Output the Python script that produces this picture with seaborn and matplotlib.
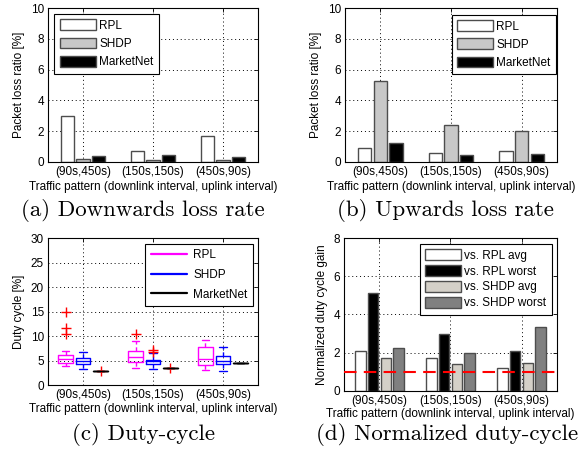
import matplotlib
matplotlib.use("Agg")
import matplotlib.pyplot as plt
import pandas as pd
import seaborn as sns
from matplotlib.lines import Line2D
from matplotlib.patches import Patch

# ---- data -------------------------------------------------------------
patterns = ["(90s,450s)", "(150s,150s)", "(450s,90s)"]
protocols = ["RPL", "SHDP", "MarketNet"]

# packet loss ratio [%], downwards traffic
down_rpl = [3.0, 0.7, 1.7]
down_shdp = [0.2, 0.1, 0.15]
down_marketnet = [0.4, 0.45, 0.3]

# packet loss ratio [%], upwards traffic
up_rpl = [0.9, 0.6, 0.7]
up_shdp = [5.25, 2.4, 2.0]
up_marketnet = [1.25, 0.45, 0.55]

# duty cycle [%] box statistics per pattern: (low whisker, q1, median, q3, high whisker)
duty_rpl_box = [(3.8, 4.5, 5.3, 6.2, 7.0), (3.5, 4.75, 5.8, 6.9, 9.0), (3.1, 4.1, 5.3, 7.7, 9.2)]
duty_rpl_out = [[10.4, 11.7, 14.8], [10.4], []]
duty_shdp_box = [(3.3, 4.3, 4.9, 5.5, 6.7), (3.2, 4.2, 4.9, 5.2, 6.6), (2.9, 4.3, 5.0, 6.0, 7.7)]
duty_shdp_out = [[], [6.8, 7.1], []]
duty_marketnet_box = [(2.95, 2.95, 2.95, 2.95, 2.95), (3.5, 3.5, 3.5, 3.5, 3.5), (4.5, 4.5, 4.5, 4.5, 4.5)]
duty_marketnet_out = [[2.95], [3.5], []]

# normalized duty cycle gain of MarketNet
gain_series = ["vs. RPL avg", "vs. RPL worst", "vs. SHDP avg", "vs. SHDP worst"]
gain_rpl_avg = [2.1, 1.7, 1.2]
gain_rpl_worst = [5.1, 2.95, 2.1]
gain_shdp_avg = [1.7, 1.4, 1.45]
gain_shdp_worst = [2.25, 2.0, 3.35]
gain_reference = 1.0

xlabel = "Traffic pattern (downlink interval, uplink interval)"
captions = ["(a) Downwards loss rate", "(b) Upwards loss rate",
            "(c) Duty-cycle", "(d) Normalized duty-cycle"]

# ---- style ------------------------------------------------------------
sns.set_theme(style="white")
plt.rcParams["font.family"] = ["Liberation Sans", "DejaVu Sans"]
FS = 8.5
plt.rcParams.update({
    "font.size": FS,
    "axes.edgecolor": "black",
    "axes.linewidth": 0.8,
    "xtick.color": "black",
    "ytick.color": "black",
    "axes.labelcolor": "black",
    "text.color": "black",
})

fig = plt.figure(figsize=(5.87, 4.53), dpi=100)
ax_a = fig.add_axes([0.0818, 0.6424, 0.3577, 0.3399])
ax_b = fig.add_axes([0.5877, 0.6424, 0.3612, 0.3399])
ax_c = fig.add_axes([0.0818, 0.1501, 0.3577, 0.3245])
ax_d = fig.add_axes([0.5860, 0.1375, 0.3629, 0.3371])


def style_axes(ax, ymax, ystep, ylabel, xpad=2):
    ax.set_xlim(-0.5, 2.5)
    ax.set_ylim(0, ymax)
    ax.set_yticks([v * ystep for v in range(int(round(ymax / ystep)) + 1)])
    ax.set_xticks(range(len(patterns)))
    ax.set_xticklabels(patterns, fontsize=FS)
    ax.tick_params(axis="y", labelsize=FS)
    ax.tick_params(direction="in", length=3, width=0.6, top=True, right=True,
                   pad=3)
    ax.set_xlabel(xlabel, fontsize=FS, labelpad=xpad)
    ax.set_ylabel(ylabel, fontsize=FS, labelpad=4)
    ax.grid(True, linestyle=(0, (1, 3)), color="black", linewidth=0.7)
    ax.set_axisbelow(True)
    for s in ax.spines.values():
        s.set_visible(True)
        s.set_color("black")


def grouped_bars(ax, series_names, series_values, colors, total_width, gap):
    rows = []
    for name, vals in zip(series_names, series_values):
        for p, v in zip(patterns, vals):
            rows.append({"pattern": p, "series": name, "value": v})
    df = pd.DataFrame(rows)
    sns.barplot(data=df, x="pattern", y="value", hue="series",
                order=patterns, hue_order=series_names,
                palette=dict(zip(series_names, colors)),
                width=total_width, gap=gap, edgecolor="0.3", linewidth=1.0,
                saturation=1, errorbar=None, legend=False, ax=ax)


def bar_legend(ax, names, colors, anchor, loc, spacing):
    handles = [Patch(facecolor=c, edgecolor="0.3", linewidth=1.0) for c in colors]
    leg = ax.legend(handles, names, loc=loc, bbox_to_anchor=anchor,
                    fontsize=FS, frameon=True, fancybox=False, framealpha=1,
                    edgecolor="black", handlelength=3.1, handleheight=1.0,
                    handletextpad=0.25, labelspacing=spacing, borderpad=0.45,
                    borderaxespad=0.0)
    leg.get_frame().set_linewidth(0.8)


# (a) downwards loss
loss_colors = ["white", "#c8c8c8", "black"]
grouped_bars(ax_a, protocols, [down_rpl, down_shdp, down_marketnet],
             loss_colors, 0.66, 0.14)
style_axes(ax_a, 10, 2, "Packet loss ratio [%]")
bar_legend(ax_a, protocols, loss_colors, (0.03, 0.96), "upper left", 0.5)

# (b) upwards loss
grouped_bars(ax_b, protocols, [up_rpl, up_shdp, up_marketnet],
             loss_colors, 0.66, 0.14)
style_axes(ax_b, 10, 2, "Packet loss ratio [%]")
bar_legend(ax_b, protocols, loss_colors, (0.995, 0.955), "upper right", 0.5)

# (c) duty cycle boxes
box_colors = ["#ff00ff", "#0000ff", "black"]
offsets = [-0.25, 0.0, 0.25]
for boxes, outs, color, off in zip(
        [duty_rpl_box, duty_shdp_box, duty_marketnet_box],
        [duty_rpl_out, duty_shdp_out, duty_marketnet_out],
        box_colors, offsets):
    stats = []
    for (lo, q1, med, q3, hi), fl in zip(boxes, outs):
        stats.append({"whislo": lo, "q1": q1, "med": med, "q3": q3,
                      "whishi": hi, "fliers": fl})
    ax_c.bxp(stats, positions=[i + off for i in range(len(patterns))],
             widths=0.21, showfliers=True, manage_ticks=False,
             boxprops=dict(color=color, linewidth=1.0),
             medianprops=dict(color=color, linewidth=1.0),
             whiskerprops=dict(color=color, linewidth=1.0, linestyle=(0, (3, 2))),
             capprops=dict(color=color, linewidth=1.0),
             capwidths=0.11,
             flierprops=dict(marker="+", markeredgecolor="red",
                             markersize=7, markeredgewidth=1.0,
                             linestyle="none"))
style_axes(ax_c, 30, 5, "Duty cycle [%]", xpad=1.5)
line_handles = [Line2D([], [], color=c, linewidth=1.6) for c in box_colors]
leg = ax_c.legend(line_handles, protocols, loc="upper right",
                  bbox_to_anchor=(0.975, 0.96), fontsize=FS, frameon=True,
                  fancybox=False, framealpha=1, edgecolor="black",
                  handlelength=3.1, handletextpad=0.5, labelspacing=0.65,
                  borderpad=0.45, borderaxespad=0.0)
leg.get_frame().set_linewidth(0.8)

# (d) normalized gain
gain_colors = ["white", "black", "#d4d0c8", "#808080"]
grouped_bars(ax_d, gain_series,
             [gain_rpl_avg, gain_rpl_worst, gain_shdp_avg, gain_shdp_worst],
             gain_colors, 0.72, 0.16)
style_axes(ax_d, 8, 2, "Normalized duty cycle gain", xpad=1.0)
ax_d.axhline(gain_reference, color="red", linewidth=1.5,
             linestyle=(0, (6, 3.5)), zorder=5)
bar_legend(ax_d, gain_series, gain_colors, (0.975, 0.96), "upper right", 0.3)

# sub-figure captions
cap_font = dict(family=["cmr10", "DejaVu Serif"], fontsize=16.5,
                ha="center", va="center")
fig.text(143 / 587, 0.535, captions[0], **cap_font)
fig.text(445 / 587, 0.535, captions[1], **cap_font)
fig.text(143 / 587, 0.041, captions[2], **cap_font)
fig.text(447 / 587, 0.041, captions[3], **cap_font)

fig.savefig("out.png", dpi=100)
